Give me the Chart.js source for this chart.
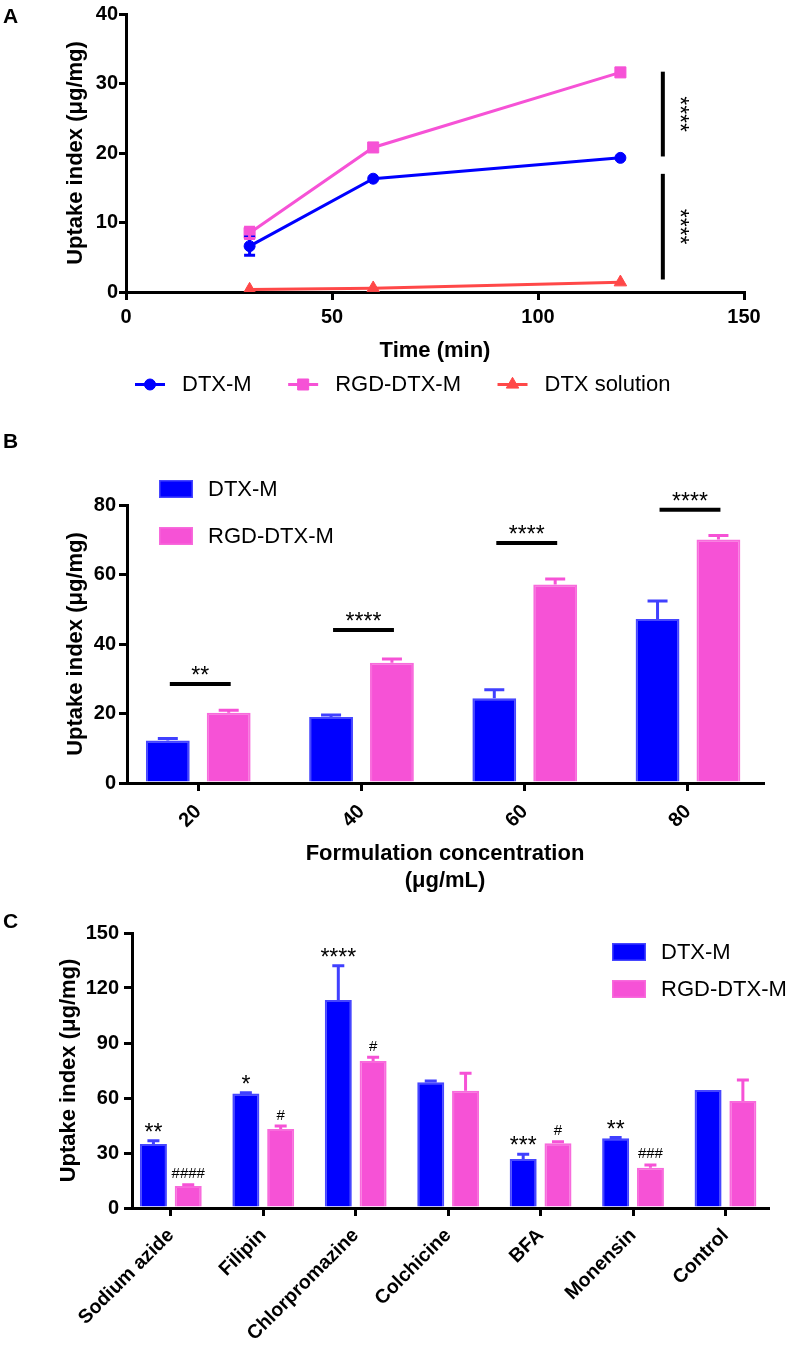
<!DOCTYPE html>
<html><head><meta charset="utf-8">
<script src="https://cdn.jsdelivr.net/npm/chart.js@4/dist/chart.umd.min.js"></script>
<style>
html,body{margin:0;padding:0;background:#fff;}
#wrap{position:relative;width:789px;height:1352px;overflow:hidden;background:#fff;}
.pc{position:absolute;left:0;width:789px;}
</style></head><body>
<div id="wrap">
<div class="pc" style="top:0;height:400px"><canvas id="ca"></canvas></div>
<div class="pc" style="top:400px;height:500px"><canvas id="cb"></canvas></div>
<div class="pc" style="top:890px;height:462px"><canvas id="cc"></canvas></div>
</div>
<script>
// ---------- DATA ----------
const seriesNames = ['DTX-M', 'RGD-DTX-M', 'DTX solution'];
const yTitle = 'Uptake index (μg/mg)';

// Panel A
const timePoints = [30, 60, 120];
const aDtxM = [6.6, 16.3, 19.3];
const aDtxMErr = [1.3, 0, 0];
const aRgd = [8.5, 20.8, 31.6];
const aRgdErr = [0.8, 0, 0];
const aSol = [0.35, 0.55, 1.4];
const aSolErr = [0, 0, 0];
const aXTicks = [0, 50, 100, 150];
const aYTicks = [0, 10, 20, 30, 40];
const sigAX = 130.3;
const sigAFrom = [31.7, 17.0];
const sigATo = [19.5, 1.8];
const sigAText = ['****', '****'];

// Panel B
const conc = [20, 40, 60, 80];
const bDtxM = [12.2, 19.0, 24.4, 47.2];
const bDtxMErr = [0.6, 0.6, 2.4, 5.2];
const bRgd = [20.2, 34.6, 57.1, 70.1];
const bRgdErr = [0.7, 1.1, 1.6, 1.1];
const sigBY = [28.5, 44.0, 69.1, 78.6];
const sigBText = ['**', '****', '****', '****'];
const bYTicks = [0, 20, 40, 60, 80];

// Panel C
const agents = ['Sodium azide', 'Filipin', 'Chlorpromazine', 'Colchicine', 'BFA', 'Monensin', 'Control'];
const cDtxM = [34.9, 62.5, 113.5, 68.6, 26.7, 38.0, 64.4];
const cDtxMErr = [1.8, 0.3, 18.7, 0.7, 2.6, 0.4, 0];
const cRgd = [12.0, 43.1, 80.2, 64.0, 35.3, 22.0, 58.4];
const cRgdErr = [0.7, 1.6, 2.0, 9.5, 0.9, 1.5, 11.4];
const cSigDtxM = ['**', '*', '****', '', '***', '**', ''];
const cSigRgd = ['####', '#', '#', '', '#', '###', ''];
const cYTicks = [0, 30, 60, 90, 120, 150];

// ---------- STYLE ----------
const FONT = "'Liberation Sans', Arial, Helvetica, sans-serif";
Chart.defaults.font.family = FONT;
Chart.defaults.color = '#000';
const BLUE = '#0000ff', BLUE_EDGE = '#4646ff', BLUE_ERR = '#4040ff';
const PINK = '#f652d6', PINK_EDGE = '#f86bdc';
const RED = '#ff4848';

function axisCommon(tickLen, pad, size) {
  return {
    border: {display: true, color: '#000', width: 3},
    grid: {display: true, drawOnChartArea: false, drawTicks: true, tickLength: tickLen, color: '#000', lineWidth: 3, offset: false},
    ticks: {color: '#000', font: {size: size, weight: 'bold'}, padding: pad, autoSkip: false}
  };
}
function yAxis(max, ticksArr, width, tickLen, pad, titlePad) {
  const c = axisCommon(tickLen, pad, 20);
  return Object.assign(c, {
    type: 'linear', min: 0, max: max, position: 'left', bounds: 'data',
    afterBuildTicks(s) { s.ticks = ticksArr.map(v => ({value: v})); },
    title: {display: true, text: yTitle, color: '#000', font: {size: 22, weight: 'bold'}, padding: {top: titlePad, bottom: 0}},
    afterFit(s) { s.width = width; }
  });
}

function drawMarker(ctx, style, x, y, r, color) {
  ctx.save();
  ctx.fillStyle = color; ctx.strokeStyle = color; ctx.lineWidth = 1;
  ctx.beginPath();
  if (style === 'circle') { ctx.arc(x, y, r, 0, Math.PI * 2); }
  else if (style === 'rect') { const s = r * Math.SQRT1_2; ctx.rect(x - s, y - s, 2 * s, 2 * s); }
  else if (style === 'triangle') {
    ctx.moveTo(x, y - r);
    ctx.lineTo(x + r * Math.cos(Math.PI / 6), y + r / 2);
    ctx.lineTo(x - r * Math.cos(Math.PI / 6), y + r / 2);
    ctx.closePath();
  }
  ctx.fill(); ctx.stroke();
  ctx.restore();
}

function panelLetter(letter, y) {
  return {id: 'letter' + letter, afterDraw(chart) {
    const ctx = chart.ctx; ctx.save();
    ctx.font = 'bold 21px ' + FONT; ctx.fillStyle = '#000'; ctx.textBaseline = 'alphabetic';
    ctx.fillText(letter, 3, y); ctx.restore();
  }};
}

function barErrors(capW) {
  return {id: 'barErr', afterDatasetsDraw(chart) {
    const ctx = chart.ctx; const ys = chart.scales.y;
    chart.data.datasets.forEach((ds, di) => {
      const meta = chart.getDatasetMeta(di);
      meta.data.forEach((el, i) => {
        const e = ds.errs[i]; if (!e) return;
        const v = ds.data[i].y;
        const yT = ys.getPixelForValue(v + e), yB = ys.getPixelForValue(v);
        ctx.save(); ctx.strokeStyle = ds.errColor; ctx.lineWidth = 3; ctx.lineCap = 'butt';
        ctx.beginPath();
        ctx.moveTo(el.x, yB); ctx.lineTo(el.x, yT + 1.5);
        ctx.moveTo(el.x - capW / 2, yT); ctx.lineTo(el.x + capW / 2, yT);
        ctx.stroke(); ctx.restore();
      });
    });
  }};
}

function boxLegend(x0, boxTop0, textX, step) {
  return {id: 'boxLegend', afterDraw(chart) {
    const ctx = chart.ctx; ctx.save();
    chart.data.datasets.forEach((ds, i) => {
      const top = boxTop0 + i * step;
      ctx.fillStyle = ds.backgroundColor; ctx.fillRect(x0, top, 34, 18);
      ctx.strokeStyle = ds.borderColor; ctx.lineWidth = 1.5; ctx.strokeRect(x0 + 0.75, top + 0.75, 32.5, 16.5);
      ctx.fillStyle = '#000'; ctx.font = '22px ' + FONT; ctx.textBaseline = 'middle'; ctx.textAlign = 'left';
      ctx.fillText(ds.label, textX, top + 9.5);
    });
    ctx.restore();
  }};
}

// ---------- PANEL A ----------
const aSets = [
  {vals: aDtxM, errs: aDtxMErr, color: BLUE, style: 'circle', r: 5.5},
  {vals: aRgd, errs: aRgdErr, color: PINK, style: 'rect', r: 7.8},
  {vals: aSol, errs: aSolErr, color: RED, style: 'triangle', r: 7.2}
];
new Chart(document.getElementById('ca'), {
  type: 'line',
  data: {datasets: aSets.map((s, k) => ({
    label: seriesNames[k],
    data: timePoints.map((t, i) => ({x: t, y: s.vals[i]})),
    errs: s.errs,
    borderColor: s.color, backgroundColor: s.color, borderWidth: 3,
    pointStyle: s.style, pointRadius: s.r, pointHoverRadius: s.r, pointBorderWidth: 1,
    pointBackgroundColor: s.color, pointBorderColor: s.color, tension: 0, fill: false
  }))},
  options: {
    responsive: true, maintainAspectRatio: false, animation: false, events: [],
    layout: {padding: {left: 0, right: 45, top: 14, bottom: 0}},
    plugins: {legend: {display: false}, tooltip: {enabled: false}},
    scales: {
      x: Object.assign(axisCommon(8, 5, 20), {
        type: 'linear', min: 0, max: 150, bounds: 'data', position: 'bottom',
        afterBuildTicks(s) { s.ticks = aXTicks.map(v => ({value: v})); },
        title: {display: true, text: 'Time (min)', color: '#000', font: {size: 22, weight: 'bold'}, padding: {top: 0, bottom: 35.8}},
        afterFit(s) { s.height = 108; }
      }),
      y: yAxis(40, aYTicks, 126, 7, 1, 62.8)
    }
  },
  plugins: [
    panelLetter('A', 23),
    {id: 'aErr', afterDatasetsDraw(chart) {
      const ctx = chart.ctx; const ys = chart.scales.y;
      chart.data.datasets.forEach((ds, di) => {
        chart.getDatasetMeta(di).data.forEach((el, i) => {
          const e = ds.errs[i]; if (!e) return;
          const v = ds.data[i].y;
          const y1 = ys.getPixelForValue(v + e), y2 = ys.getPixelForValue(v - e);
          ctx.save(); ctx.strokeStyle = ds.borderColor; ctx.lineWidth = 3;
          ctx.beginPath();
          ctx.moveTo(el.x, y1); ctx.lineTo(el.x, y2);
          ctx.moveTo(el.x - 5.5, y1); ctx.lineTo(el.x + 5.5, y1);
          ctx.moveTo(el.x - 5.5, y2); ctx.lineTo(el.x + 5.5, y2);
          ctx.stroke(); ctx.restore();
        });
      });
    }},
    {id: 'aSig', afterDraw(chart) {
      const ctx = chart.ctx; const xs = chart.scales.x, ys = chart.scales.y;
      const x = xs.getPixelForValue(sigAX);
      ctx.save();
      sigAFrom.forEach((f, i) => {
        const y1 = ys.getPixelForValue(f), y2 = ys.getPixelForValue(sigATo[i]);
        ctx.strokeStyle = '#000'; ctx.lineWidth = 4;
        ctx.beginPath(); ctx.moveTo(x, y1); ctx.lineTo(x, y2); ctx.stroke();
        ctx.save();
        ctx.translate(x + 9, (y1 + y2) / 2); ctx.rotate(Math.PI / 2);
        ctx.font = '23px ' + FONT; ctx.fillStyle = '#000'; ctx.textAlign = 'center'; ctx.textBaseline = 'alphabetic';
        ctx.fillText(sigAText[i], 0, 0);
        ctx.restore();
      });
      ctx.restore();
    }},
    {id: 'aLegend', afterDraw(chart) {
      const ctx = chart.ctx; ctx.save();
      ctx.font = '22px ' + FONT; ctx.textBaseline = 'middle'; ctx.textAlign = 'left';
      let x = 135; const y = 384.5;
      chart.data.datasets.forEach(ds => {
        ctx.strokeStyle = ds.borderColor; ctx.lineWidth = 3;
        ctx.beginPath(); ctx.moveTo(x, y); ctx.lineTo(x + 30, y); ctx.stroke();
        drawMarker(ctx, ds.pointStyle, x + 15, y, ds.pointRadius, ds.borderColor);
        ctx.fillStyle = '#000'; ctx.fillText(ds.label, x + 47, y);
        x += 47 + ctx.measureText(ds.label).width + 36.5;
      });
      ctx.restore();
    }}
  ]
});

// ---------- PANEL B ----------
new Chart(document.getElementById('cb'), {
  type: 'bar',
  data: {datasets: [
    {label: seriesNames[0], data: conc.map((c, i) => ({x: c, y: bDtxM[i]})), errs: bDtxMErr, errColor: BLUE_ERR,
     backgroundColor: BLUE, borderColor: BLUE_EDGE, borderWidth: 2, categoryPercentage: 0.746, barPercentage: 0.72},
    {label: seriesNames[1], data: conc.map((c, i) => ({x: c, y: bRgd[i]})), errs: bRgdErr, errColor: PINK,
     backgroundColor: PINK, borderColor: PINK_EDGE, borderWidth: 2, categoryPercentage: 0.746, barPercentage: 0.72}
  ]},
  options: {
    responsive: true, maintainAspectRatio: false, animation: false, events: [],
    layout: {padding: {left: 0, right: 26, top: 105, bottom: 0}},
    plugins: {legend: {display: false}, tooltip: {enabled: false}},
    scales: {
      x: Object.assign(axisCommon(8, 9, 20), {
        type: 'linear', min: 11.27, max: 89.19, bounds: 'data', offset: false, position: 'bottom',
        afterBuildTicks(s) { s.ticks = conc.map(v => ({value: v})); },
        title: {display: true, text: ['Formulation concentration', '(μg/mL)'], color: '#000',
                font: {size: 22, weight: 'bold', lineHeight: 27 / 22}, padding: {top: 0, bottom: 5.1}},
        afterFit(s) { s.height = 117; }
      }),
      y: yAxis(80, bYTicks, 127, 8, 3, 62.8)
    }
  },
  plugins: [
    panelLetter('B', 48),
    barErrors(20),
    {id: 'bSig', afterDraw(chart) {
      const ctx = chart.ctx; const ys = chart.scales.y;
      const m0 = chart.getDatasetMeta(0), m1 = chart.getDatasetMeta(1);
      ctx.save();
      sigBY.forEach((yv, i) => {
        const y = ys.getPixelForValue(yv);
        const x1 = m0.data[i].x + 2, x2 = m1.data[i].x + 2;
        ctx.strokeStyle = '#000'; ctx.lineWidth = 4;
        ctx.beginPath(); ctx.moveTo(x1, y); ctx.lineTo(x2, y); ctx.stroke();
        ctx.font = '23px ' + FONT; ctx.fillStyle = '#000'; ctx.textAlign = 'center'; ctx.textBaseline = 'alphabetic';
        ctx.fillText(sigBText[i], (x1 + x2) / 2, y - 1);
      });
      ctx.restore();
    }},
    boxLegend(159, 80, 208, 47)
  ]
});

// ---------- PANEL C ----------
new Chart(document.getElementById('cc'), {
  type: 'bar',
  data: {datasets: [
    {label: seriesNames[0], data: agents.map((a, i) => ({x: i, y: cDtxM[i]})), errs: cDtxMErr, errColor: BLUE_ERR, sig: cSigDtxM,
     backgroundColor: BLUE, borderColor: BLUE_EDGE, borderWidth: 2, categoryPercentage: 0.753, barPercentage: 0.776},
    {label: seriesNames[1], data: agents.map((a, i) => ({x: i, y: cRgd[i]})), errs: cRgdErr, errColor: PINK, sig: cSigRgd,
     backgroundColor: PINK, borderColor: PINK_EDGE, borderWidth: 2, categoryPercentage: 0.753, barPercentage: 0.776}
  ]},
  options: {
    responsive: true, maintainAspectRatio: false, animation: false, events: [],
    layout: {padding: {left: 0, right: 21, top: 43, bottom: 0}},
    plugins: {legend: {display: false}, tooltip: {enabled: false}},
    scales: {
      x: Object.assign(axisCommon(8, 8, 19.5), {
        type: 'linear', min: -0.42, max: 6.46, bounds: 'data', offset: false, position: 'bottom',
        afterBuildTicks(s) { s.ticks = agents.map((a, i) => ({value: i})); },
        afterFit(s) { s.height = 144; }
      }),
      y: yAxis(150, cYTicks, 132, 8, 5, 55.8)
    }
  },
  plugins: [
    panelLetter('C', 38),
    barErrors(12),
    {id: 'cSig', afterDraw(chart) {
      const ctx = chart.ctx; const ys = chart.scales.y;
      ctx.save(); ctx.fillStyle = '#000'; ctx.textAlign = 'center'; ctx.textBaseline = 'alphabetic';
      chart.data.datasets.forEach((ds, di) => {
        chart.getDatasetMeta(di).data.forEach((el, i) => {
          const t = ds.sig[i]; if (!t) return;
          const capY = ys.getPixelForValue(ds.data[i].y + ds.errs[i]);
          if (t[0] === '#') { ctx.font = '15px ' + FONT; ctx.fillText(t, el.x, capY - 6.5); }
          else { ctx.font = '23px ' + FONT; ctx.fillText(t, el.x, capY - 1); }
        });
      });
      ctx.restore();
    }},
    boxLegend(612, 53, 661, 37)
  ]
});
// tick label callback for panel C names
const cc = Chart.getChart('cc');
cc.options.scales.x.ticks.callback = (v) => agents[v] !== undefined ? agents[v] : '';
cc.options.scales.x.ticks.minRotation = 45;
cc.options.scales.x.ticks.maxRotation = 45;
cc.update('none');
const cb = Chart.getChart('cb');
cb.options.scales.x.ticks.minRotation = 45;
cb.options.scales.x.ticks.maxRotation = 45;
cb.update('none');
</script>
</body></html>
